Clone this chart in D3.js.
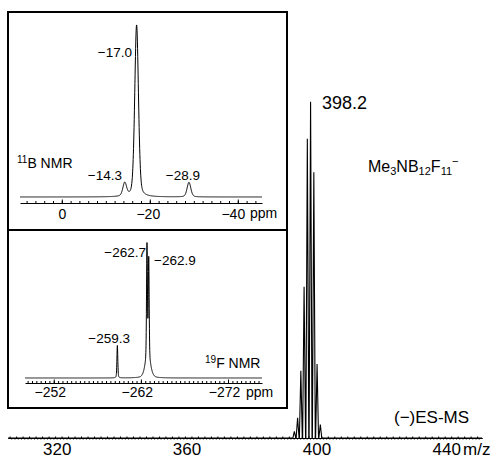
<!DOCTYPE html>
<html>
<head>
<meta charset="utf-8">
<script src="https://cdn.jsdelivr.net/npm/d3@7"></script>
<style>
  body { margin: 0; background: #fff; }
  svg { font-family: "Liberation Sans", Arial, sans-serif; }
  .axis path, .axis line { stroke: #000; }
</style>
</head>
<body>
<script>
// ES-MS isotope cluster (m/z, relative intensity)
const msMass = [393.2, 394.2, 395.2, 396.2, 397.2, 398.2, 399.2, 400.2, 401.2];
const msInt  = [0.02, 0.06, 0.20, 0.45, 0.89, 1.0, 0.79, 0.22, 0.04];
const msTicks = [320, 360, 400, 440];

// 11B NMR peaks (ppm, height, width)
const bShift  = [-14.3, -17.0, -28.9];
const bHeight = [0.077, 1.0, 0.085];
const bWidth  = [1.0, 1.0, 1.0];
const bLabels = ["\u221214.3", "\u221217.0", "\u221228.9"];
const bTicks = [0, -20, -40];

// 19F NMR peaks (ppm, height, width); the broad one is the foot of the doublet
const fShift  = [-259.3, -262.7, -262.9, -262.8];
const fHeight = [0.23, 0.80, 0.70, 0.15];
const fWidth  = [0.12, 0.12, 0.12, 0.7];
const fLabels = ["\u2212259.3", "\u2212262.7", "\u2212262.9"];
const fTicks = [-252, -262, -272];

const W = 492, H = 458;
const minus = d => (d < 0 ? "\u2212" + Math.abs(d) : "" + d);

const svg = d3.select("body").append("svg")
    .attr("width", W)
    .attr("height", H);

// pseudo-voigt line shape for a peak
function shape(x, c, h, w) {
  const t = (x - c) / (w / 2);
  return h * (0.3 / (1 + t * t) + 0.7 * Math.exp(-Math.LN2 * t * t));
}
function spectrum(domain, step, shifts, heights, widths) {
  const lo = Math.min(domain[0], domain[1]), hi = Math.max(domain[0], domain[1]);
  return d3.range(lo, hi + step, step).map(x => {
    let y = 0;
    shifts.forEach((c, i) => { y += shape(x, c, heights[i], widths[i]); });
    return [x, y];
  });
}

// ---------- mass spectrum ----------
const xMs = d3.scaleLinear().domain([305, 451]).range([8, 482]);
const yMs = d3.scaleLinear().domain([0, 1]).range([438, 101.7]);

const msPts = [];
msMass.forEach((m, i) => {
  msPts.push([m - 0.45, 0], [m, msInt[i]], [m + 0.45, 0]);
});
const msLine = [[305, 0]].concat(msPts, [[451, 0]]);

svg.append("path")
    .datum(msLine)
    .attr("fill", "none")
    .attr("stroke", "#000")
    .attr("stroke-width", 1.1)
    .attr("d", d3.line().x(d => xMs(d[0])).y(d => yMs(d[1])));

const msMinor = d3.range(306, 451, 1);
svg.append("g").attr("class", "axis")
    .attr("transform", "translate(0,438)")
    .call(d3.axisBottom(xMs).tickValues(msMinor).tickSize(1.5).tickSizeOuter(0).tickFormat(""));
svg.append("g").attr("class", "axis")
    .attr("transform", "translate(0,438)")
    .call(d3.axisBottom(xMs).tickValues(d3.range(305.5, 451, 2)).tickSize(-1.5).tickSizeOuter(0).tickFormat(""));
svg.append("g").attr("class", "axis")
    .attr("transform", "translate(0,438)")
    .call(d3.axisBottom(xMs).tickValues(msTicks).tickSize(0).tickPadding(5).tickFormat(d => d))
    .call(g => g.select(".domain").remove())
    .selectAll("text").attr("font-size", 17).attr("font-family", null);

svg.append("text").attr("x", 463).attr("y", 455).attr("font-size", 17).text("m/z");
svg.append("text").attr("x", 322).attr("y", 109).attr("font-size", 18).text("398.2");
svg.append("text").attr("x", 394).attr("y", 423).attr("font-size", 17).text("(\u2212)ES-MS");

const formula = svg.append("text").attr("x", 368).attr("y", 172).attr("font-size", 16);
formula.append("tspan").text("Me");
formula.append("tspan").attr("font-size", 11).attr("dy", 3).text("3");
formula.append("tspan").attr("dy", -3).text("NB");
formula.append("tspan").attr("font-size", 11).attr("dy", 3).text("12");
formula.append("tspan").attr("dy", -3).text("F");
formula.append("tspan").attr("font-size", 11).attr("dy", 3).text("11");
formula.append("tspan").attr("font-size", 11).attr("dy", -10).text("\u2212");

// ---------- inset frame ----------
svg.append("rect")
    .attr("x", 8).attr("y", 12).attr("width", 279).attr("height", 396)
    .attr("fill", "none").attr("stroke", "#000").attr("stroke-width", 2);
svg.append("line")
    .attr("x1", 8).attr("x2", 287).attr("y1", 230).attr("y2", 230)
    .attr("stroke", "#000").attr("stroke-width", 2);

// ---------- 11B NMR ----------
const xB = d3.scaleLinear().domain([9.5, -45.5]).range([20, 262]);
const yB = d3.scaleLinear().domain([0, 1]).range([197, 25]);

svg.append("path")
    .datum(spectrum(xB.domain(), 0.04, bShift, bHeight, bWidth))
    .attr("fill", "none").attr("stroke", "#000").attr("stroke-width", 1)
    .attr("d", d3.line().x(d => xB(d[0])).y(d => yB(d[1])));

svg.append("g").attr("class", "axis")
    .attr("transform", "translate(0,203)")
    .call(d3.axisBottom(xB).tickValues(d3.range(8, -46, -2)).tickSize(-2).tickSizeOuter(0).tickFormat(""));
svg.append("g").attr("class", "axis")
    .attr("transform", "translate(0,203)")
    .call(d3.axisBottom(xB).tickValues(bTicks).tickSize(-3.5).tickPadding(6).tickFormat(minus))
    .call(g => g.select(".domain").remove())
    .selectAll("text").attr("font-size", 14).attr("font-family", null)
    .attr("dx", d => (d === -40 ? -5 : d === -20 ? -2 : 0));
svg.append("text").attr("x", 250).attr("y", 218).attr("font-size", 14).text("ppm");

const bLabelPos = [[122, 180], [132, 57], [200, 180]];
bLabels.forEach((t, i) => {
  svg.append("text").attr("x", bLabelPos[i][0]).attr("y", bLabelPos[i][1])
      .attr("text-anchor", "end").attr("font-size", 13.5).text(t);
});
const bName = svg.append("text").attr("x", 17).attr("y", 168).attr("font-size", 14);
bName.append("tspan").attr("font-size", 10).attr("dy", -5).text("11");
bName.append("tspan").attr("dy", 5).text("B NMR");

// ---------- 19F NMR ----------
const xF = d3.scaleLinear().domain([-248.7, -275.9]).range([25, 262]);
const yF = d3.scaleLinear().domain([0, 1]).range([378, 236.7]);

svg.append("path")
    .datum(spectrum(xF.domain(), 0.01, fShift, fHeight, fWidth))
    .attr("fill", "none").attr("stroke", "#000").attr("stroke-width", 1)
    .attr("d", d3.line().x(d => xF(d[0])).y(d => yF(d[1])));

svg.append("g").attr("class", "axis")
    .attr("transform", "translate(0,383)")
    .call(d3.axisBottom(xF).tickValues(d3.range(-249, -276, -0.5)).tickSize(-2).tickSizeOuter(0).tickFormat(""));
svg.append("g").attr("class", "axis")
    .attr("transform", "translate(0,383)")
    .call(d3.axisBottom(xF).tickValues(fTicks).tickSize(-3.5).tickPadding(4).tickFormat(minus))
    .call(g => g.select(".domain").remove())
    .selectAll("text").attr("font-size", 14).attr("font-family", null)
    .attr("dx", -4);
svg.append("text").attr("x", 246).attr("y", 397).attr("font-size", 14).text("ppm");

const fLabelPos = [[146, 257, "end"], [154, 265, "start"], [130, 343, "end"]];
const fLabelOrder = [1, 2, 0];
fLabelOrder.forEach((k, i) => {
  svg.append("text").attr("x", fLabelPos[i][0]).attr("y", fLabelPos[i][1])
      .attr("text-anchor", fLabelPos[i][2]).attr("font-size", 13.5).text(fLabels[k]);
});
const fName = svg.append("text").attr("x", 205).attr("y", 368).attr("font-size", 14);
fName.append("tspan").attr("font-size", 10).attr("dy", -5).text("19");
fName.append("tspan").attr("dy", 5).text("F NMR");
</script>
</body>
</html>
